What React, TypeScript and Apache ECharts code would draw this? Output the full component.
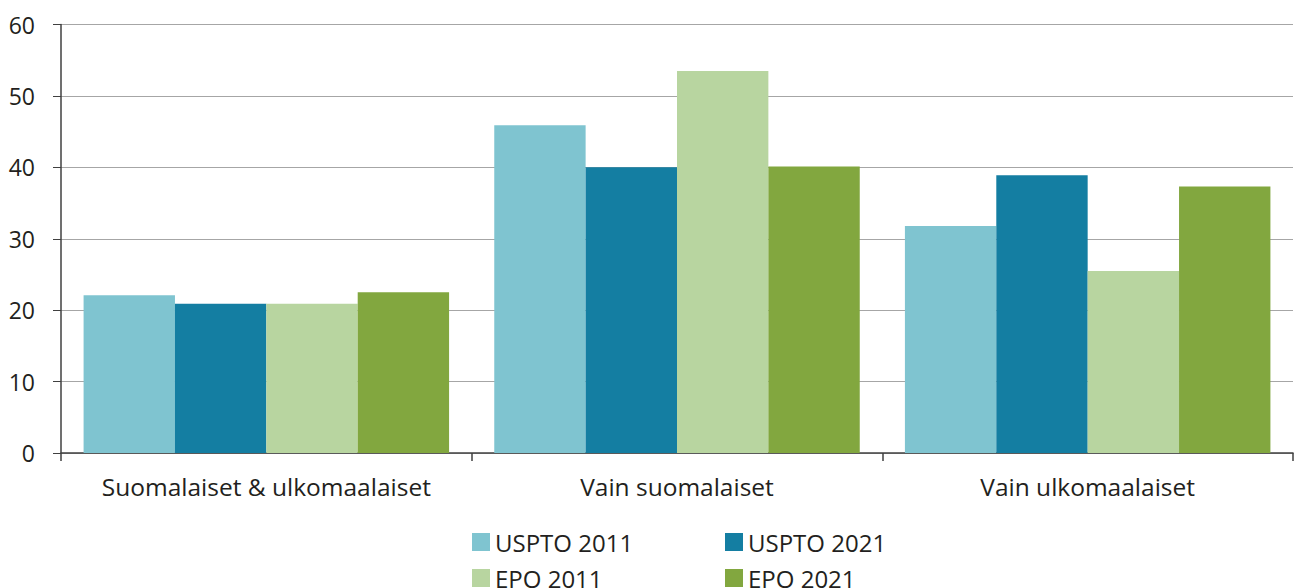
import React, { useEffect, useRef } from "react";
import * as echarts from "echarts";

const categories = ["Suomalaiset & ulkomaalaiset", "Vain suomalaiset", "Vain ulkomaalaiset"];
const seriesNames = ["USPTO 2011", "USPTO 2021", "EPO 2011", "EPO 2021"];
const uspto2011 = [22.1, 45.9, 31.8];
const uspto2021 = [20.9, 40.0, 38.9];
const epo2011 = [20.9, 53.5, 25.5];
const epo2021 = [22.5, 40.1, 37.3];
const colors = ["#7fc4d0", "#147ea2", "#b8d5a0", "#82a73f"];

const FONT = "Open Sans";

export default function App() {
  const ref = useRef<HTMLDivElement>(null);
  useEffect(() => {
    if (!ref.current) return;
    const chart = echarts.init(ref.current, undefined, { renderer: "svg" });
    const values = [uspto2011, uspto2021, epo2011, epo2021];
    const legendPos = [
      { left: 472, top: 530 },
      { left: 725, top: 530 },
      { left: 472, top: 566 },
      { left: 725, top: 566 },
    ];
    chart.setOption({
      animation: false,
      textStyle: { fontFamily: FONT },
      grid: { left: 61, right: 1, top: 24.5, bottom: 135, containLabel: false },
      legend: seriesNames.map((n, i) => ({
        data: [n],
        left: legendPos[i].left,
        top: legendPos[i].top,
        itemWidth: 18,
        itemHeight: 18,
        itemGap: 6,
        padding: 0,
        icon: "rect",
        textStyle: { fontFamily: FONT, fontSize: 24, color: "#231f20" },
      })),
      xAxis: {
        type: "category",
        data: categories,
        axisLine: { lineStyle: { color: "#404040", width: 1.5 } },
        axisTick: { show: true, interval: 0, length: 8, lineStyle: { color: "#404040", width: 1.5 } },
        axisLabel: { interval: 0, hideOverlap: false, fontSize: 24.5, color: "#231f20", margin: 21, fontFamily: FONT },
      },
      yAxis: {
        type: "value",
        min: 0,
        max: 60,
        interval: 10,
        axisLine: { show: true, lineStyle: { color: "#404040", width: 1.5 } },
        axisTick: { show: true, length: 8, lineStyle: { color: "#404040", width: 1 } },
        axisLabel: { fontSize: 23, color: "#231f20", margin: 26, fontFamily: FONT },
        splitLine: { lineStyle: { color: "#a6a6a6", width: 1.2 } },
      },
      series: seriesNames.map((n, i) => ({
        name: n,
        type: "bar",
        data: values[i],
        barGap: "0%",
        barCategoryGap: "11%",
        itemStyle: { color: colors[i] },
      })),
    });
    return () => chart.dispose();
  }, []);
  return (
    <div
      ref={ref}
      style={{ position: "fixed", left: 0, top: 0, width: 1294, height: 588, background: "#fff" }}
    />
  );
}
